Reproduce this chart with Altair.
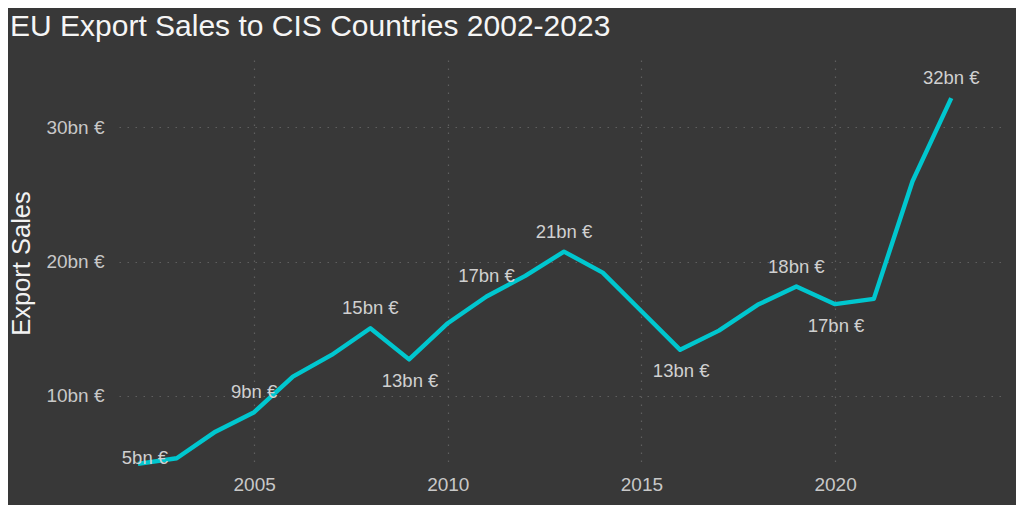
import altair as alt
import pandas as pd

years = [2002, 2003, 2004, 2005, 2006, 2007, 2008, 2009, 2010, 2011, 2012,
         2013, 2014, 2015, 2016, 2017, 2018, 2019, 2020, 2021, 2022, 2023]
sales_bn = [4.94, 5.36, 7.34, 8.79, 11.44, 13.05, 15.04, 12.72, 15.41, 17.40, 18.93,
            20.74, 19.18, 16.30, 13.43, 14.86, 16.78, 18.14, 16.83, 17.22, 25.98, 32.16]

label_years_above = [2005, 2008, 2011, 2013, 2019, 2023]
label_years_below = [2009, 2016, 2020]
label_years_side = [2002]

x_ticks = [2005, 2010, 2015, 2020]
y_ticks = [10, 20, 30]

df = pd.DataFrame({"year": years, "sales": sales_bn})
df["label"] = [f"{round(v)}bn €" for v in sales_bn]

FONT = "Liberation Sans"
LINE_COLOR = "#00c7cf"
TEXT_COLOR = "#d0d0d0"

x = alt.X("year:Q",
          scale=alt.Scale(domain=[2001.51, 2024.31], nice=False, zero=False),
          axis=alt.Axis(values=x_ticks, format="d", title=None, labelPadding=8))
y = alt.Y("sales:Q",
          scale=alt.Scale(domain=[4.71, 35.0], nice=False, zero=False),
          axis=alt.Axis(values=y_ticks, labelExpr="datum.value + 'bn €'",
                        title="Export Sales", titleFont=FONT, titleFontSize=25.5,
                        titleFontWeight="normal", titleColor="#f2f2f2",
                        titleAngle=-90, titleX=-90, titleY=203,
                        titleAlign="center", titleBaseline="alphabetic",
                        labelPadding=15))

base = alt.Chart(df)

line = base.mark_line(color=LINE_COLOR, strokeWidth=4.4, strokeJoin="round",
                      strokeCap="butt").encode(x=x, y=y)

def labels(sel, dx, dy):
    return base.transform_filter(
        alt.FieldOneOfPredicate(field="year", oneOf=sel)
    ).mark_text(font=FONT, fontSize=18.5, color=TEXT_COLOR, dx=dx, dy=dy,
                baseline="middle", align="center").encode(
        x=alt.X("year:Q"), y=alt.Y("sales:Q"), text="label:N")

chart = alt.layer(
    line,
    labels(label_years_above, 0, -20),
    labels(label_years_below, 1, 21.5),
    labels(label_years_side, 7, -6),
).properties(
    width=883, height=407,
    autosize=alt.AutoSizeParams(type="none"),
    padding={"left": 111, "top": 52, "right": 14, "bottom": 38},
    background="#383838",
    title=alt.TitleParams("EU Export Sales to CIS Countries 2002-2023",
                          anchor="start", frame="group", font=FONT,
                          fontSize=30, fontWeight="normal", color="#f5f5f5",
                          baseline="alphabetic", offset=27, dx=-109, dy=33),
).configure_view(stroke=None).configure_axis(
    grid=True, gridColor="#5f5f5f", gridDash=[1.5, 6.5], gridWidth=1.2,
    domain=False, ticks=False, tickSize=0,
    labelFont=FONT, labelFontSize=19, labelColor="#c8c8c8",
)

chart.save("out.html", embed_options={"renderer": "svg", "actions": False})
